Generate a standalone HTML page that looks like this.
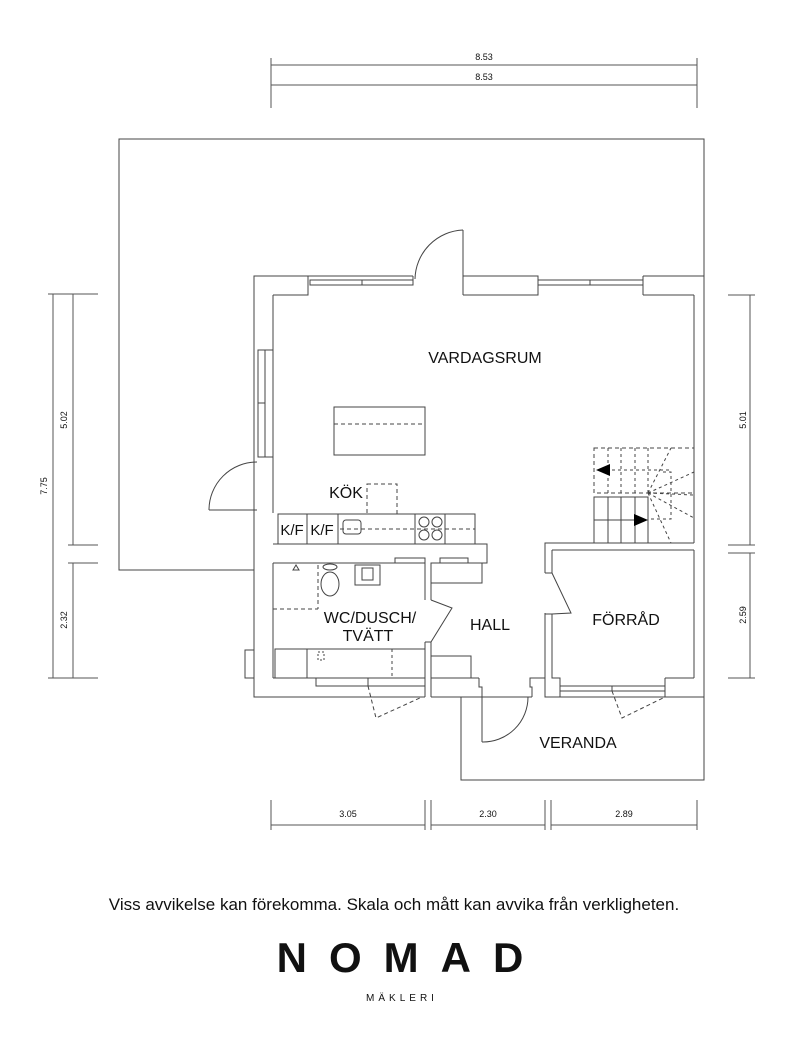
<!DOCTYPE html>
<html><head><meta charset="utf-8"><style>
html,body{margin:0;padding:0;background:#fff;}
svg{display:block;}
text{font-family:"Liberation Sans",sans-serif;fill:#111;}
</style></head><body>
<svg width="800" height="1056" viewBox="0 0 800 1056" xmlns="http://www.w3.org/2000/svg">
<g fill="none" stroke="#444" stroke-width="1">
<polyline points="254,570 119,570 119,139 704,139 704,276"/>
<polyline points="461,697 461,780 704,780 704,697"/>
<polyline points="413,276 254,276 254,697 425,697"/>
<line x1="273" y1="295" x2="273" y2="513"/>
<polyline points="463,276 538,276 538,295 463,295"/>
<polyline points="643,276 704,276 704,697 665,697"/>
<line x1="643" y1="295" x2="694" y2="295"/>
<line x1="694" y1="295" x2="694" y2="543"/>
<polyline points="254,276 308,276 308,295 273,295"/>
<rect x="310" y="280" width="103" height="5"/>
<line x1="362" y1="280" x2="362" y2="285"/>
<rect x="538" y="280" width="105" height="5"/>
<line x1="590" y1="280" x2="590" y2="285"/>
<line x1="643" y1="276" x2="643" y2="295"/>
<line x1="413" y1="276" x2="413" y2="285"/>
<line x1="463" y1="276" x2="463" y2="295"/>
<rect x="258" y="350" width="7" height="107"/>
<line x1="258" y1="403" x2="265" y2="403"/>
<line x1="265" y1="350" x2="273" y2="350"/>
<line x1="265" y1="457" x2="273" y2="457"/>
<line x1="463" y1="230" x2="463" y2="276"/>
<path d="M463,230 A50,50 0 0 0 415,279"/>
<line x1="257" y1="510" x2="209" y2="510"/>
<path d="M209,510 A48,48 0 0 1 257,462"/>
<rect x="334" y="407" width="91" height="48"/>
<line x1="334" y1="424" x2="425" y2="424" stroke-dasharray="4,3"/>
<rect x="367" y="484" width="30" height="30" stroke-dasharray="4,3"/>
<rect x="278" y="514" width="197" height="30"/>
<line x1="307" y1="514" x2="307" y2="544"/>
<line x1="338" y1="514" x2="338" y2="544"/>
<line x1="415" y1="514" x2="415" y2="544"/>
<line x1="445" y1="514" x2="445" y2="544"/>
<line x1="340" y1="529" x2="475" y2="529" stroke-dasharray="4,3"/>
<rect x="343" y="520" width="18" height="14" rx="3"/>
<circle cx="424" cy="522" r="5"/><circle cx="437" cy="522" r="5"/>
<circle cx="424" cy="535" r="5"/><circle cx="437" cy="535" r="5"/>
<polyline points="273,544 487,544 487,563 431,563"/>
<polyline points="273,563 425,563"/>
<line x1="273" y1="563" x2="273" y2="678"/>
<line x1="273" y1="678" x2="425" y2="678"/>
<line x1="425" y1="563" x2="425" y2="600"/>
<line x1="431" y1="563" x2="431" y2="600"/>
<line x1="425" y1="642" x2="425" y2="697"/>
<line x1="431" y1="642" x2="431" y2="697"/>
<line x1="431" y1="642" x2="425" y2="642"/>
<polyline points="431,600 452,608 431,642"/>
<line x1="273" y1="609" x2="318" y2="609" stroke-dasharray="4,3"/>
<line x1="318" y1="565" x2="318" y2="609" stroke-dasharray="4,3"/>
<polygon points="296,565 293,570 299,570"/>
<ellipse cx="330" cy="584" rx="9" ry="12"/>
<ellipse cx="330" cy="567" rx="7" ry="3"/>
<rect x="355" y="565" width="25" height="20"/>
<rect x="362" y="568" width="11" height="12"/>
<rect x="395" y="558" width="30" height="5"/>
<rect x="275" y="649" width="150" height="29"/>
<line x1="307" y1="649" x2="307" y2="678"/>
<line x1="392" y1="649" x2="392" y2="678" stroke-dasharray="3,3"/>
<rect x="318" y="652" width="6" height="8" stroke-dasharray="2,2"/>
<rect x="245" y="650" width="9" height="28"/>
<rect x="316" y="678" width="109" height="8"/>
<line x1="368" y1="678" x2="368" y2="686"/>
<polyline points="368,686 376,718 422,697" stroke-dasharray="4,3"/>
<rect x="431" y="563" width="51" height="20"/>
<rect x="440" y="558" width="28" height="5"/>
<rect x="431" y="656" width="40" height="22"/>
<line x1="431" y1="678" x2="479" y2="678"/>
<polyline points="479,678 479,687 482,687 482,697 431,697"/>
<polyline points="482,697 532,697"/>
<line x1="482" y1="697" x2="482" y2="742"/>
<path d="M482,742 A45,45 0 0 0 528,697"/>
<polyline points="532,697 532,687 530,687 530,678 545,678"/>
<polyline points="545,678 545,613"/>
<polyline points="545,573 545,543 694,543"/>
<line x1="552" y1="550" x2="694" y2="550"/>
<line x1="552" y1="550" x2="552" y2="573"/>
<line x1="545" y1="573" x2="552" y2="573"/>
<polyline points="552,573 571,613 552,614 545,614"/>
<polyline points="552,614 552,678 560,678 560,697 545,697 545,678"/>
<line x1="694" y1="550" x2="694" y2="678"/>
<rect x="560" y="686" width="105" height="5"/>
<line x1="612" y1="686" x2="612" y2="691"/>
<polyline points="665,678 694,678"/>
<polyline points="665,678 665,697 704,697"/>
<line x1="560" y1="697" x2="665" y2="697"/>
<polyline points="612,691 622,718 665,697" stroke-dasharray="4,3"/>
<rect x="594" y="448" width="100" height="45" stroke-dasharray="4,3"/>
<g stroke-dasharray="3,3">
<line x1="608" y1="448" x2="608" y2="493"/><line x1="621" y1="448" x2="621" y2="493"/>
<line x1="635" y1="448" x2="635" y2="493"/><line x1="648" y1="448" x2="648" y2="493"/>
<line x1="600" y1="470" x2="671" y2="470"/>
<line x1="648" y1="493" x2="671" y2="448"/>
<line x1="648" y1="493" x2="694" y2="472"/>
<line x1="648" y1="493" x2="694" y2="495"/>
<line x1="648" y1="493" x2="694" y2="518"/>
<line x1="648" y1="493" x2="671" y2="543"/>
<polyline points="663,472 671,472 671,519 650,519"/>
</g>
<rect x="594" y="497" width="54" height="46"/>
<line x1="608" y1="497" x2="608" y2="543"/><line x1="621" y1="497" x2="621" y2="543"/>
<line x1="635" y1="497" x2="635" y2="543"/>
<line x1="594" y1="520" x2="640" y2="520"/>
</g>
<polygon points="596,470 610,464 610,476" fill="#000"/>
<polygon points="648,520 634,514 634,526" fill="#000"/>
<g stroke="#555" stroke-width="1" fill="none">
<line x1="271" y1="65" x2="697" y2="65"/><line x1="271" y1="85" x2="697" y2="85"/>
<line x1="271" y1="58" x2="271" y2="108"/><line x1="697" y1="58" x2="697" y2="108"/>
<line x1="53" y1="294" x2="53" y2="678"/><line x1="73" y1="294" x2="73" y2="545"/><line x1="73" y1="563" x2="73" y2="678"/>
<line x1="48" y1="294" x2="98" y2="294"/><line x1="48" y1="678" x2="98" y2="678"/>
<line x1="68" y1="545" x2="98" y2="545"/><line x1="68" y1="563" x2="98" y2="563"/>
<line x1="750" y1="295" x2="750" y2="545"/><line x1="750" y1="553" x2="750" y2="678"/>
<line x1="728" y1="295" x2="755" y2="295"/><line x1="728" y1="545" x2="755" y2="545"/>
<line x1="728" y1="553" x2="755" y2="553"/><line x1="728" y1="678" x2="755" y2="678"/>
<line x1="271" y1="825" x2="425" y2="825"/><line x1="431" y1="825" x2="545" y2="825"/><line x1="551" y1="825" x2="697" y2="825"/>
<line x1="271" y1="800" x2="271" y2="830"/><line x1="425" y1="800" x2="425" y2="830"/><line x1="431" y1="800" x2="431" y2="830"/>
<line x1="545" y1="800" x2="545" y2="830"/><line x1="551" y1="800" x2="551" y2="830"/><line x1="697" y1="800" x2="697" y2="830"/>
</g>
<g font-size="9" text-anchor="middle">
<text x="484" y="60">8.53</text><text x="484" y="80">8.53</text>
<text x="348" y="817">3.05</text><text x="488" y="817">2.30</text><text x="624" y="817">2.89</text>
<text transform="translate(47,486) rotate(-90)">7.75</text>
<text transform="translate(67,420) rotate(-90)">5.02</text>
<text transform="translate(67,620) rotate(-90)">2.32</text>
<text transform="translate(746,420) rotate(-90)">5.01</text>
<text transform="translate(746,615) rotate(-90)">2.59</text>
</g>
<g font-size="16" text-anchor="middle">
<text x="485" y="363">VARDAGSRUM</text>
<text x="346" y="498">KÖK</text>
<text x="370" y="623">WC/DUSCH/</text>
<text x="368" y="641">TVÄTT</text>
<text x="490" y="630">HALL</text>
<text x="626" y="625">FÖRRÅD</text>
<text x="578" y="748">VERANDA</text>
<text x="292" y="535" font-size="15">K/F</text>
<text x="322" y="535" font-size="15">K/F</text>
<text x="394" y="910" font-size="17">Viss avvikelse kan förekomma. Skala och mått kan avvika från verkligheten.</text>
<text x="411" y="972" font-size="42" letter-spacing="22" font-weight="bold">NOMAD</text>
<text x="402" y="1001" font-size="10" letter-spacing="4">MÄKLERI</text>
</g>
</svg>
</body></html>
